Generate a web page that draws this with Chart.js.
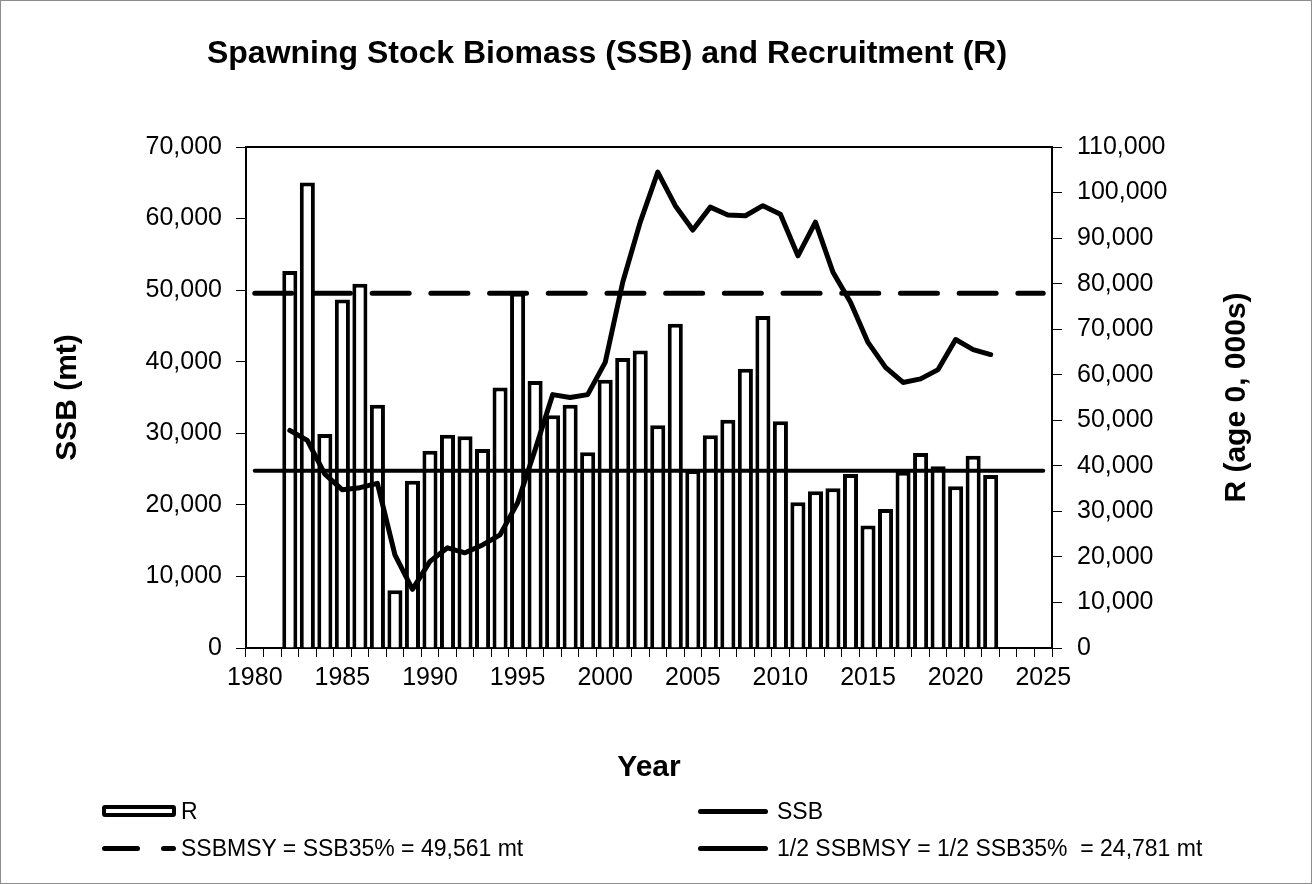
<!DOCTYPE html>
<html>
<head>
<meta charset="utf-8">
<title>Spawning Stock Biomass (SSB) and Recruitment (R)</title>
<script src="https://cdn.jsdelivr.net/npm/chart.js@4.4.1/dist/chart.umd.min.js"></script>
<style>
  html, body { margin: 0; padding: 0; background: #fff; }
  #wrap { position: relative; width: 1312px; height: 884px; }
  #legend { position: absolute; left: 0; top: 0; width: 1312px; height: 884px; pointer-events: none;
    font-family: "Liberation Sans", Arial, sans-serif; font-size: 23px; color: #000; }
  .item { position: absolute; display: flex; align-items: center; height: 28px; white-space: pre; }
  .box { width: 74px; height: 12px; border: 4px solid #000; border-radius: 3px; box-sizing: border-box; background: #fff; }
  .line { height: 5px; background: #000; border-radius: 3px; }
</style>
</head>
<body>
<div id="wrap">
  <canvas id="chart" width="1312" height="884"></canvas>
  <div id="legend">
    <div class="item" style="left:102px; top:797px;"><div class="box"></div><span style="margin-left:5px">R</span></div>
    <div class="item" style="left:698px; top:797px;"><div class="line" style="width:70px"></div><span style="margin-left:9px">SSB</span></div>
    <div class="item" style="left:102px; top:834px;"><div class="line" style="width:38px"></div><div class="line" style="width:15px; margin-left:21px"></div><span style="margin-left:5px">SSBMSY = SSB35% = 49,561 mt</span></div>
    <div class="item" style="left:698px; top:834px;"><div class="line" style="width:70px"></div><span style="margin-left:9px">1/2 SSBMSY = 1/2 SSB35%  = 24,781 mt</span></div>
  </div>
</div>
<script>
// categories: one per year on the axis
const years = [];
for (let y = 1980; y <= 2025; y++) years.push(y);

// recruitment, age 0 (000s) - right axis
const rValues = [
  null, null,
  82800, 102200, 47000, 76500, 80000, 53400, 12700, 36700,
  43300, 46800, 46500, 43700, 57200, 78000, 58600, 51100, 53400, 43000,
  58900, 63700, 65300, 48900, 71200, 39100, 46700, 50100, 61300, 72900,
  49800, 32000, 34400, 35100, 38200, 26900, 30500, 38700, 42800, 39900,
  35500, 42200, 38000,
  null, null, null
];

// spawning stock biomass (mt) - left axis
const ssbValues = [
  null, null,
  30400, 29000, 24300, 22100, 22400, 23000, 13000, 8200,
  12100, 14000, 13300, 14400, 15800, 20300, 27700, 35400, 35000, 35400,
  39900, 51100, 59500, 66500, 61800, 58400, 61600, 60500, 60400, 61800,
  60600, 54800, 59500, 52500, 48300, 42700, 39200, 37100, 37600, 38900,
  43100, 41700, 41000,
  null, null, null
];

// reference points
const ssbMsy = 49561;
const halfSsbMsy = 24781;
const ssbMsyLine = years.map(() => ssbMsy);
const halfSsbMsyLine = years.map(() => halfSsbMsy);

// labelled years on the x axis
const xTickYears = [1980, 1985, 1990, 1995, 2000, 2005, 2010, 2015, 2020, 2025];

const FONT = '"Liberation Sans", Arial, Helvetica, sans-serif';
const TITLE = 'Spawning Stock Biomass (SSB) and Recruitment (R)';
const fmt = v => Number(v).toLocaleString('en-US');

// plot frame, outer frame, chart title and the right axis title
const framePlugin = {
  id: 'frame',
  beforeDatasetsDraw(chart) {
    const a = chart.chartArea, ctx = chart.ctx;
    ctx.save();
    ctx.strokeStyle = '#000';
    ctx.lineWidth = 2;
    ctx.strokeRect(a.left, a.top, a.right - a.left, a.bottom - a.top);
    ctx.restore();
  },
  afterDraw(chart) {
    const ctx = chart.ctx, a = chart.chartArea;
    ctx.save();
    ctx.strokeStyle = '#8c8c8c';
    ctx.lineWidth = 1;
    ctx.strokeRect(0.5, 0.5, chart.width - 1, chart.height - 1);

    ctx.fillStyle = '#000';
    ctx.textAlign = 'center';
    ctx.textBaseline = 'middle';
    ctx.font = 'bold 32px ' + FONT;
    ctx.fillText(TITLE, 607, 54);

    ctx.translate(1237, (a.top + a.bottom) / 2);
    ctx.rotate(-Math.PI / 2);
    ctx.font = 'bold 30px ' + FONT;
    ctx.fillText('R (age 0, 000s)', 0, 0);
    ctx.restore();
  }
};

const ctx = document.getElementById('chart').getContext('2d');
new Chart(ctx, {
  type: 'bar',
  data: {
    labels: years,
    datasets: [
      {
        label: 'SSB',
        type: 'line',
        data: ssbValues,
        yAxisID: 'y',
        borderColor: '#000',
        borderWidth: 5,
        borderJoinStyle: 'round',
        borderCapStyle: 'round',
        pointRadius: 0,
        tension: 0,
        spanGaps: false,
        order: 1
      },
      {
        label: 'SSBMSY = SSB35% = 49,561 mt',
        type: 'line',
        data: ssbMsyLine,
        yAxisID: 'y',
        borderColor: '#000',
        borderWidth: 5,
        borderDash: [37, 21.7],
        borderCapStyle: 'round',
        pointRadius: 0,
        order: 2
      },
      {
        label: '1/2 SSBMSY = 1/2 SSB35%  = 24,781 mt',
        type: 'line',
        data: halfSsbMsyLine,
        yAxisID: 'y',
        borderColor: '#000',
        borderWidth: 4,
        borderCapStyle: 'round',
        pointRadius: 0,
        order: 3
      },
      {
        label: 'R',
        type: 'bar',
        data: rValues,
        yAxisID: 'y1',
        backgroundColor: '#fff',
        borderColor: '#000',
        borderWidth: 4,
        categoryPercentage: 1,
        barPercentage: 0.86,
        order: 10
      }
    ]
  },
  options: {
    responsive: false,
    animation: false,
    layout: { padding: { top: 147, left: 0, right: 0, bottom: 0 } },
    plugins: {
      legend: { display: false },
      tooltip: { enabled: false },
      title: { display: false }
    },
    scales: {
      x: {
        type: 'category',
        offset: true,
        grid: { offset: true, drawOnChartArea: false, drawTicks: true, tickLength: 9, color: '#000', lineWidth: 1 },
        border: { display: true, color: '#000', width: 2 },
        ticks: {
          autoSkip: false, maxRotation: 0, minRotation: 0, padding: 6, color: '#000',
          font: { family: FONT, size: 25 },
          callback: (v, i) => xTickYears.includes(years[i]) ? String(years[i]) : ''
        },
        title: {
          display: true, text: 'Year', color: '#000',
          font: { family: FONT, size: 30, weight: 'bold', lineHeight: 1.2 },
          padding: { top: 0, bottom: 98 }
        },
        afterFit: s => { s.height = 884 - 648; }
      },
      y: {
        position: 'left',
        min: 0, max: 70000,
        grid: { drawOnChartArea: false, drawTicks: true, tickLength: 10, color: '#000' },
        border: { display: true, color: '#000', width: 2 },
        ticks: { stepSize: 10000, padding: 14, color: '#000', font: { family: FONT, size: 25 }, callback: v => fmt(v) },
        title: {
          display: true, text: 'SSB (mt)', color: '#000',
          font: { family: FONT, size: 30, weight: 'bold', lineHeight: 1.2 },
          padding: { top: 50, bottom: 0 }
        },
        afterFit: s => { s.width = 246; }
      },
      y1: {
        position: 'right',
        min: 0, max: 110000,
        grid: { drawOnChartArea: false, drawTicks: true, tickLength: 10, color: '#000' },
        border: { display: true, color: '#000', width: 2 },
        ticks: { stepSize: 10000, padding: 15, color: '#000', font: { family: FONT, size: 25 }, callback: v => fmt(v) },
        afterFit: s => { s.width = 1312 - 1052; }
      }
    }
  },
  plugins: [framePlugin]
});
</script>
</body>
</html>
